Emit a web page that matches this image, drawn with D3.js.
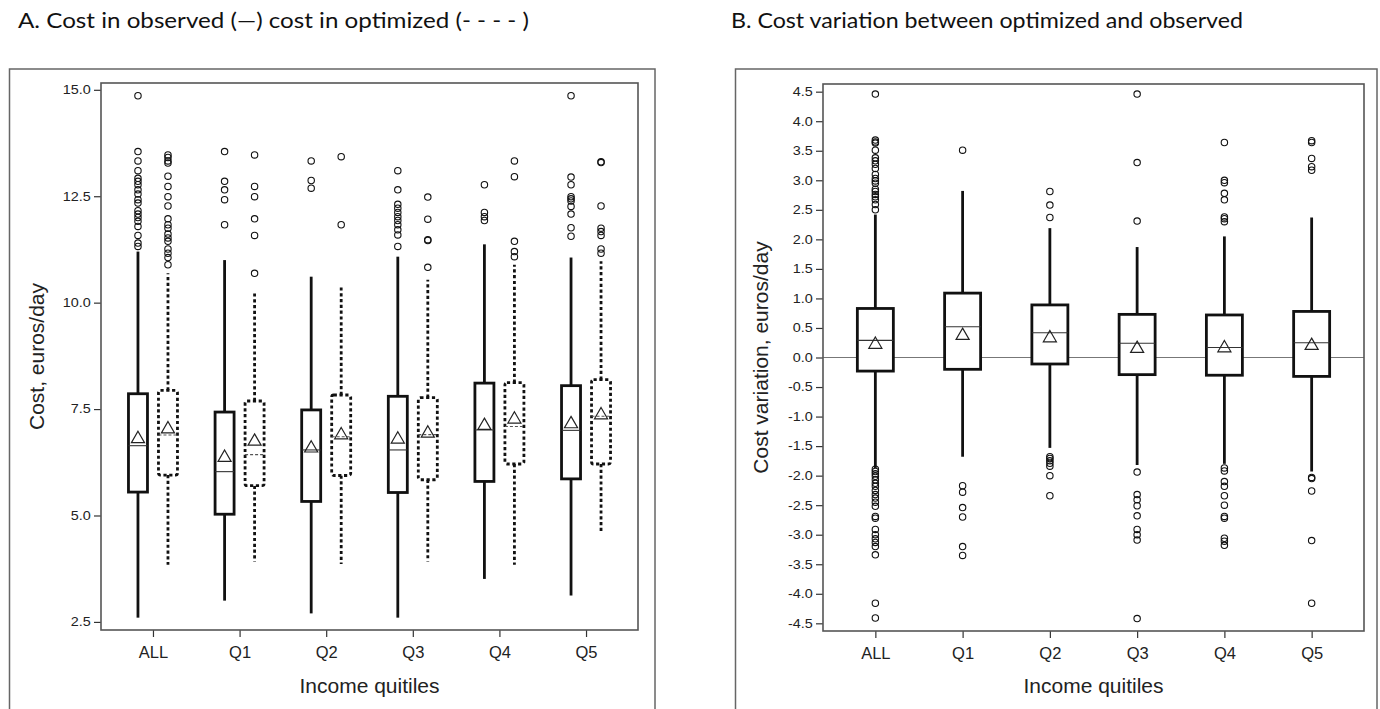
<!DOCTYPE html>
<html><head><meta charset="utf-8">
<script src="https://cdn.jsdelivr.net/npm/d3@7"></script>
<style>body{margin:0;background:#fff}svg{display:block}</style>
</head><body><svg id="c" width="1380" height="709"></svg>
<script>
// ---------- DATA ----------
const categories = ["ALL", "Q1", "Q2", "Q3", "Q4", "Q5"];
const leftTicks = [2.5, 5.0, 7.5, 10.0, 12.5, 15.0];
const rightTicks = [-4.5, -4.0, -3.5, -3.0, -2.5, -2.0, -1.5, -1.0, -0.5, 0.0, 0.5, 1.0, 1.5, 2.0, 2.5, 3.0, 3.5, 4.0, 4.5];

// Panel A - observed cost
const obsQ1     = [5.55, 5.03, 5.33, 5.54, 5.80, 5.86];
const obsMedian = [6.64, 6.03, 6.54, 6.54, 7.01, 7.00];
const obsQ3     = [7.86, 7.43, 7.48, 7.80, 8.11, 8.05];
const obsMean   = [6.80, 6.36, 6.58, 6.79, 7.11, 7.15];
const obsLow    = [2.60, 3.00, 2.70, 2.60, 3.51, 3.12];
const obsHigh   = [11.20, 11.00, 10.61, 11.08, 11.37, 11.06];
const obsOutliers = [
  [14.86, 13.55, 13.33, 13.10, 12.92, 12.85, 12.77, 12.65, 12.55, 12.42, 12.34, 12.16, 12.08, 12.00, 11.91, 11.79, 11.58, 11.40, 11.32],
  [13.55, 12.85, 12.65, 12.42, 11.83],
  [13.33, 12.87, 12.69],
  [13.10, 12.65, 12.31, 12.22, 12.12, 12.02, 11.93, 11.83, 11.71, 11.59, 11.32],
  [12.77, 12.12, 12.02, 11.93],
  [14.86, 12.95, 12.77, 12.49, 12.44, 12.39, 12.26, 12.08, 11.76, 11.56]
];

// Panel A - optimized cost
const optQ1     = [5.95, 5.70, 5.94, 5.84, 6.21, 6.21];
const optMedian = [6.89, 6.43, 6.85, 6.90, 7.09, 7.33];
const optQ3     = [7.94, 7.69, 7.83, 7.77, 8.12, 8.19];
const optMean   = [7.03, 6.74, 6.89, 6.93, 7.26, 7.36];
const optLow    = [3.84, 3.92, 3.86, 3.92, 3.84, 4.58];
const optHigh   = [10.69, 10.26, 10.42, 10.54, 10.89, 10.97];
const optOutliers = [
  [13.47, 13.41, 13.33, 13.28, 12.97, 12.73, 12.49, 12.27, 11.97, 11.83, 11.75, 11.61, 11.52, 11.44, 11.26, 11.16, 11.06, 10.89],
  [13.47, 12.73, 12.49, 11.97, 11.58, 10.69],
  [13.43, 11.83],
  [12.48, 11.96, 11.48, 11.46, 10.83],
  [13.33, 12.96, 11.44, 11.20, 11.08],
  [13.31, 13.29, 12.27, 11.75, 11.67, 11.58, 11.26, 11.16]
];

// Panel B - cost variation
const varQ1     = [-0.23, -0.20, -0.11, -0.29, -0.30, -0.32];
const varMedian = [0.29, 0.52, 0.42, 0.24, 0.17, 0.25];
const varQ3     = [0.83, 1.09, 0.89, 0.73, 0.72, 0.78];
const varMean   = [0.22, 0.37, 0.33, 0.15, 0.16, 0.20];
const varLow    = [-1.87, -1.68, -1.53, -1.82, -1.80, -1.93];
const varHigh   = [2.42, 2.82, 2.19, 1.87, 2.05, 2.37];
const varOutliers = [
  [4.46, 3.68, 3.65, 3.63, 3.51, 3.38, 3.33, 3.27, 3.20, 3.10, 3.03, 2.99, 2.95, 2.85, 2.81, 2.76, 2.72, 2.67, 2.59, 2.50,
   -1.89, -1.93, -1.97, -2.01, -2.07, -2.13, -2.18, -2.25, -2.32, -2.38, -2.45, -2.52, -2.69, -2.72, -2.91, -3.00, -3.07, -3.13, -3.20, -3.34, -4.16, -4.41],
  [3.51, -2.17, -2.28, -2.54, -2.70, -3.20, -3.35],
  [2.81, 2.58, 2.37, -1.68, -1.71, -1.75, -1.79, -1.84, -2.00, -2.34],
  [4.46, 3.30, 2.31, -1.94, -2.32, -2.41, -2.51, -2.68, -2.91, -3.00, -3.09, -4.42],
  [3.64, 3.00, 2.96, 2.78, 2.67, 2.38, 2.35, 2.30, -1.87, -1.92, -2.10, -2.18, -2.34, -2.50, -2.69, -2.72, -3.06, -3.11, -3.18],
  [3.67, 3.64, 3.37, 3.23, 3.17, -2.03, -2.05, -2.26, -3.10, -4.16]
];

const titleA = "A. Cost in observed (\u2014)  cost in optimized (- - - - )";
const titleB = "B. Cost variation between optimized and observed";
const yTitleA = "Cost, euros/day";
const yTitleB = "Cost variation, euros/day";
const xTitle = "Income quitiles";

// ---------- DRAW ----------
const svg = d3.select("#c");
const INK = "#111";
const FRAME = "#555";
const axisFont = "'Liberation Sans', Arial, sans-serif";

function series(q1, med, q3, mean, low, high, out) {
  return categories.map((c, i) => ({cat: c, q1: q1[i], med: med[i], q3: q3[i], mean: mean[i], low: low[i], high: high[i], out: out[i]}));
}

function panel(o) {
  const g = svg.append("g");
  // outer frame
  g.append("rect").attr("x", o.frame[0]).attr("y", o.frame[1]).attr("width", o.frame[2] - o.frame[0]).attr("height", 700)
    .attr("fill", "none").attr("stroke", "#666").attr("stroke-width", 1.5);
  // title
  g.append("text").attr("x", o.titleX).attr("y", 28).text(o.title)
    .attr("font-family", "Lato, 'Open Sans', sans-serif").attr("font-size", 22).attr("fill", "#111")
    .attr("textLength", o.titleLen).attr("lengthAdjust", "spacingAndGlyphs");

  const x = d3.scalePoint().domain(categories).range([o.left, o.right]).padding(0.6);
  const y = d3.scaleLinear().domain(o.yDomain).range([o.bottom, o.top]);

  // y axis
  const ya = g.append("g").attr("transform", `translate(${o.left},0)`)
    .call(d3.axisLeft(y).tickValues(o.yTicks).tickFormat(d => d.toFixed(1)).tickSize(7).tickSizeOuter(0));
  ya.select(".domain").remove();
  ya.selectAll("line").attr("stroke", "#333").attr("stroke-width", 1.2);
  ya.selectAll("text").attr("x", -8.5).attr("font-family", axisFont).attr("font-size", 12).attr("fill", "#222")
    .attr("transform", "scale(1.2,1)");

  // x axis
  const xa = g.append("g").attr("transform", `translate(0,${o.bottom})`)
    .call(d3.axisBottom(x).tickSize(7).tickSizeOuter(0));
  xa.select(".domain").remove();
  xa.selectAll("line").attr("stroke", "#333").attr("stroke-width", 1.2);
  xa.selectAll("text").attr("y", 16).attr("font-family", axisFont).attr("font-size", 16.5).attr("fill", "#222");

  // axis titles
  g.append("text").attr("x", (o.left + o.right) / 2).attr("y", 693).attr("text-anchor", "middle")
    .attr("font-family", axisFont).attr("font-size", 21).attr("fill", "#222").text(xTitle);
  g.append("text").attr("transform", `translate(${o.yTitleX},${(o.top + o.bottom) / 2}) rotate(-90)`)
    .attr("text-anchor", "middle").attr("font-family", axisFont).attr("font-size", 21).attr("fill", "#222").text(o.yTitle);

  // zero line
  if (o.zeroLine) {
    g.append("line").attr("x1", o.left).attr("x2", o.right).attr("y1", y(0)).attr("y2", y(0))
      .attr("stroke", "#777").attr("stroke-width", 1.2);
  }

  // boxes
  o.groups.forEach(grp => {
    const gg = g.append("g");
    const dash = grp.dashed ? "3.2,2.6" : null;
    grp.data.forEach(d => {
      const cx = x(d.cat) + grp.offset;
      const hw = grp.width / 2;
      const b = gg.append("g");
      b.append("line").attr("x1", cx).attr("x2", cx).attr("y1", y(d.q3)).attr("y2", y(d.high))
        .attr("stroke", INK).attr("stroke-width", 2.8).attr("stroke-dasharray", dash);
      b.append("line").attr("x1", cx).attr("x2", cx).attr("y1", y(d.q1)).attr("y2", y(d.low))
        .attr("stroke", INK).attr("stroke-width", 2.8).attr("stroke-dasharray", dash);
      b.append("rect").attr("x", cx - hw).attr("y", y(d.q3)).attr("width", grp.width).attr("height", y(d.q1) - y(d.q3))
        .attr("fill", "#fff").attr("stroke", INK).attr("stroke-width", 2.8).attr("stroke-dasharray", dash)
        .attr("rx", grp.dashed ? 2 : 0);
      b.append("line").attr("x1", cx - hw).attr("x2", cx + hw).attr("y1", y(d.med)).attr("y2", y(d.med))
        .attr("stroke", grp.dashed ? "#555" : "#333").attr("stroke-width", 1.1).attr("stroke-dasharray", grp.dashed ? "3,2" : null);
      b.append("path").attr("d", d3.symbol(d3.symbolTriangle, 74)()).attr("transform", `translate(${cx},${y(d.mean)})`)
        .attr("fill", "none").attr("stroke", "#222").attr("stroke-width", 1.2);
      b.selectAll("circle").data(d.out).join("circle")
        .attr("cx", cx).attr("cy", v => y(v)).attr("r", 3.2)
        .attr("fill", "none").attr("stroke", INK).attr("stroke-width", 1.1);
    });
  });

  // plot frame
  g.append("rect").attr("x", o.left).attr("y", o.top).attr("width", o.right - o.left).attr("height", o.bottom - o.top)
    .attr("fill", "none").attr("stroke", FRAME).attr("stroke-width", 1.6);
}

panel({
  frame: [9.5, 69, 655], title: titleA, titleX: 18, titleLen: 511,
  left: 101, right: 638, top: 83, bottom: 630, yDomain: [2.31, 15.16], yTicks: leftTicks,
  yTitle: yTitleA, yTitleX: 44, zeroLine: false,
  groups: [
    {data: series(obsQ1, obsMedian, obsQ3, obsMean, obsLow, obsHigh, obsOutliers), offset: -15, width: 19, dashed: false},
    {data: series(optQ1, optMedian, optQ3, optMean, optLow, optHigh, optOutliers), offset: 15, width: 19, dashed: true}
  ]
});

panel({
  frame: [735.5, 69, 1377], title: titleB, titleX: 731, titleLen: 512,
  left: 823, right: 1364, top: 84, bottom: 631, yDomain: [-4.63, 4.63], yTicks: rightTicks,
  yTitle: yTitleB, yTitleX: 768, zeroLine: true,
  groups: [
    {data: series(varQ1, varMedian, varQ3, varMean, varLow, varHigh, varOutliers), offset: 0, width: 36, dashed: false}
  ]
});
</script>
</body></html>
